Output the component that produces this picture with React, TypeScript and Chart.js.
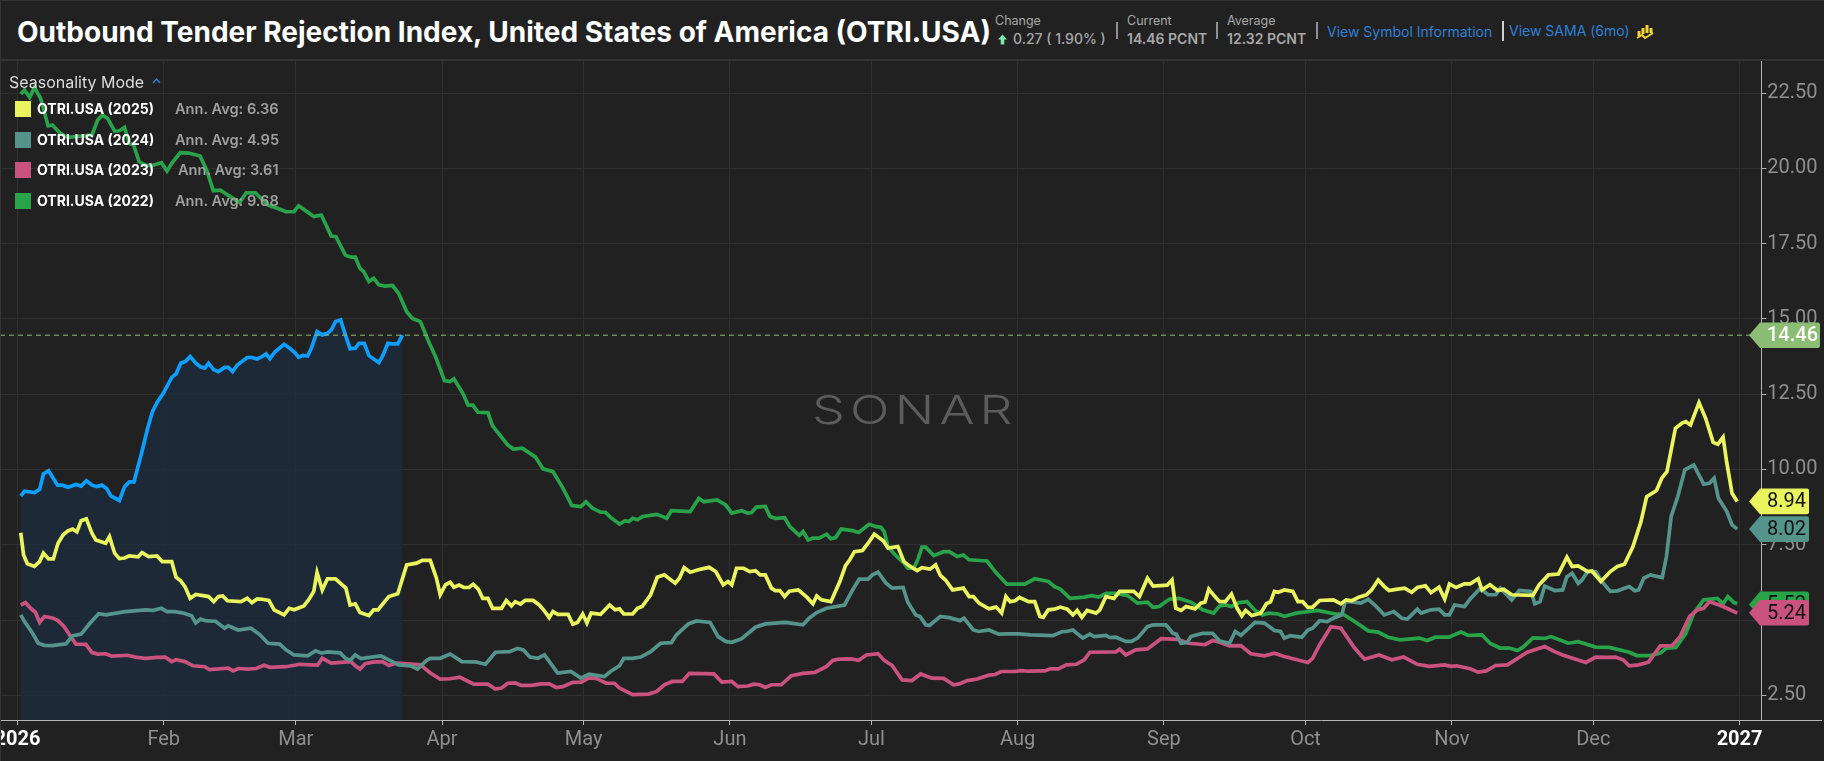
import { useEffect, useRef } from 'react';
import { Chart, registerables } from 'chart.js';

Chart.register(...registerables);

// x is days since Jan 1 2026
const monthTicks = [0, 31, 59, 90, 120, 151, 181, 212, 243, 273, 304, 334, 365];
const monthLabels = ['2026', 'Feb', 'Mar', 'Apr', 'May', 'Jun', 'Jul', 'Aug', 'Sep', 'Oct', 'Nov', 'Dec', '2027'];
const yTicks = [2.5, 5, 7.5, 10, 12.5, 15, 17.5, 20, 22.5];

const currentDays = [0.7,1.5,3.6,4.7,5.5,6.6,8.5,9.5,10.7,12.4,13.5,14.6,15.8,16.8,17.9,18.9,19.8,21.6,22.7,23.7,24.7,26.3,27.5,28.6,29.6,30.9,32.7,33.6,34.6,35.7,36.6,37.8,38.8,39.7,40.5,41.6,42.6,43.9,44.7,45.6,46.6,48.7,49.7,50.8,51.8,52.7,53.5,54.6,56.5,57.7,58.7,59.6,60.5,61.5,62.3,63.5,64.6,65.7,66.5,67.4,68.5,69.5,70.5,71.6,72.4,73.5,74.5,75.5,76.6,77.4,78.5,79.5,80.6,81.6];
const currentValues = [9.12,9.28,9.23,9.34,9.85,9.96,9.48,9.48,9.41,9.5,9.45,9.63,9.48,9.43,9.48,9.37,9.12,8.97,9.43,9.59,9.59,10.54,11.31,11.92,12.23,12.53,13.06,13.17,13.53,13.6,13.75,13.53,13.41,13.37,13.53,13.31,13.25,13.39,13.39,13.25,13.47,13.72,13.72,13.67,13.75,13.84,13.68,13.91,14.16,14.03,13.89,13.73,13.79,13.77,14.03,14.58,14.47,14.52,14.63,14.91,14.97,14.47,14.01,14.03,14.19,14.19,13.78,13.67,13.55,13.77,14.19,14.17,14.17,14.46];

const days2025 = [0.7,1.3,2.1,3.6,4.7,5.5,6.6,7.6,8.6,9.7,10.7,11.7,12.6,13.5,14.6,15.8,16.6,18.7,19.5,20.6,21.6,22.7,23.7,25.6,26.4,27.8,29.6,30.7,32.7,33.6,34.6,35.5,36.6,37.8,40.5,41.6,42.6,43.5,44.5,47.4,48.7,49.7,50.8,51.8,53.3,54.4,56.5,57.6,58.6,60.7,61.7,62.8,63.5,64.6,65.7,67.4,69.6,70.5,71.6,72.6,74.5,75.5,76.4,78.7,80.6,82.5,84.6,85.8,87.5,88.8,89.6,90.7,91.7,92.5,93.6,94.6,95.7,96.6,97.7,98.6,99.7,100.7,102.6,103.6,104.7,105.5,106.6,107.6,109.3,110.6,111.8,112.7,113.5,114.5,116.7,117.7,118.7,119.8,120.7,121.6,123.6,125.5,126.7,127.6,128.5,130.4,131.4,132.4,134.2,135.6,137.1,139.4,140.3,141.3,142.6,144.3,146.6,148,149.6,150.6,151.4,152.4,153.9,155.2,156.4,157.4,158.5,159.8,160.6,161.6,162.6,163.6,165.5,167.3,168.6,169.4,170.4,172.4,174.3,175.5,176.4,177.4,179.1,180.3,181.6,183.5,184.5,186.6,187.9,189.2,190.7,191.7,193.4,194.6,195.6,196.7,198.2,200.5,201.7,202.6,203.8,205.9,207.4,208.6,209.5,210.4,211.4,212.4,214.3,215.6,216.7,217.4,218.5,219.8,221,222.5,223.7,224.6,225.6,226.7,228.6,229.4,230.7,232.4,233.6,236.6,237.8,239.5,240.7,243.7,244.7,245.5,246.6,247.7,249.6,250.8,251.7,252.5,253.8,254.8,256,257.3,258.5,259.5,260.3,261.6,263.5,264.7,265.6,266.4,267.2,268.5,270.3,271.4,272.4,273.5,274.5,276,278.9,280.5,281.6,282.8,284.3,285.9,287,288.4,289.7,290.7,292.2,294,295.5,296.7,298.4,299.6,301.3,302.5,303.5,304.9,306.7,307.9,309.6,310.4,312.1,313.7,315,316.7,321.2,322.5,324.5,326.6,328.4,329.5,330.8,332.8,333.7,335.6,337.6,339.1,340.6,342.4,344.1,345.3,347.4,348.5,349.6,351.4,352.8,353.6,354.6,356.4,357.8,359.4,360.4,361.5,362.3,363.4,364.5];
const values2025 = [7.9,7.16,6.87,6.78,6.94,7.22,7.03,7.03,7.55,7.83,7.96,8.02,7.93,8.3,8.36,7.88,7.66,7.55,7.77,7.22,7.04,7.06,7.13,7.1,7.24,7.11,7.13,6.94,6.94,6.42,6.3,6.11,5.72,5.85,5.78,5.61,5.78,5.8,5.64,5.61,5.72,5.58,5.7,5.69,5.65,5.34,5.17,5.39,5.34,5.47,5.67,5.95,6.58,6,6.37,6.37,6.06,5.5,5.54,5.25,5.15,5.34,5.34,5.78,5.87,6.83,6.89,6.98,6.98,6.39,5.84,6.17,6.26,6.09,6.16,6.08,6.08,6.19,6.02,5.72,5.72,5.39,5.39,5.65,5.47,5.61,5.53,5.65,5.65,5.5,5.28,5.08,5.28,5.19,5.19,4.86,4.92,5.2,4.9,5.23,5.19,5.5,5.34,5.37,5.2,5.2,5.39,5.45,5.84,6.42,6.5,6.22,6.39,6.74,6.59,6.67,6.75,6.61,6.17,6.28,6.17,6.72,6.72,6.61,6.64,6.5,6.5,6.06,5.98,5.98,5.78,5.96,6,5.76,5.54,5.8,5.67,5.61,6.28,6.81,7,7.27,7.31,7.55,7.85,7.63,7.39,7.44,6.94,6.78,6.64,6.74,6.69,6.83,6.48,6.33,6,6.06,5.78,5.78,5.56,5.37,5.43,5.23,5.78,5.61,5.64,5.75,5.61,5.61,5.12,5.09,5.34,5.36,5.43,5.36,5.17,5.32,5.09,5.32,5.23,5.34,5.78,5.72,5.95,5.95,5.78,6.39,6.13,6.16,6.33,5.39,5.32,5.45,5.37,5.56,5.6,6.03,5.78,5.61,5.61,5.86,5.39,5.14,5.32,5.15,5.23,5.54,5.61,5.95,5.92,6,5.95,5.61,5.61,5.42,5.43,5.65,5.67,5.54,5.67,5.64,5.76,5.84,6,6.33,6.11,5.98,6.02,6.06,5.92,6.08,6.14,5.91,6.09,5.7,6.2,6.08,6.2,6.2,6.37,6,6.17,5.98,6.02,5.84,5.82,6.17,6.5,6.53,7.09,6.78,6.8,6.61,6.63,6.28,6.61,6.78,6.85,7.44,8.27,9.1,9.3,9.71,9.93,11.37,11.54,11.59,11.48,12.22,11.7,10.9,10.84,11.07,10.21,9.21,8.94];

const days2024 = [0.7,1.5,3.2,4.4,5.7,7.4,10.3,11.6,13.5,15.4,17.2,18.7,22.9,27.1,28.8,30.5,31.7,33.4,35.1,36.9,37.8,38.8,40.1,42,43.9,44.7,46.8,49.5,51.4,53.1,55.6,56.9,58.6,61.5,63.2,64.4,65.7,68.4,69.5,70.5,71.6,72.8,77,78.7,80.8,83.3,84.8,86.7,87.5,89.6,91.7,94.2,97.1,99.2,101.3,104.3,106,107.2,108.6,110.3,111.7,114.5,117.3,119.4,121.1,124.4,125.7,127.6,128.5,130.4,132.1,134.2,136.3,138.6,139.7,142.2,143.9,146.8,148.5,150.1,151.4,153.5,156.4,158.5,162.7,166.5,167.8,169.4,171.5,175.3,177,178.4,180.3,181.2,182.4,184.1,185.4,187.7,188.7,190.4,191.3,192.5,193.3,195.6,197.5,199.8,200.6,202.6,203.8,205.9,208,210.1,212.2,214.7,218.1,219.4,221.5,222.3,223.7,225.8,227.3,228.2,230.7,231.5,232.8,234.9,236.1,237.4,239.5,240.7,243.4,244.9,245.6,246.6,247.9,248.7,250,251.2,253.3,254.8,256.9,258.1,259.3,262.3,264.3,266.4,267.7,268.5,269.7,272.2,273.5,274.5,276,277.6,278.9,280.7,281.4,282.6,284.7,286.3,288,289.7,291.7,293.4,294.6,296.7,297.5,299.6,301.3,302.5,303.5,304.6,306.7,307.9,310,311.7,313.3,314.3,316.7,318.3,320.8,321.6,322.7,323.7,325.8,327.5,328.4,329.5,330.8,331.6,332.8,334.5,335.8,337.6,339.1,341.6,342.8,343.6,344.7,346.1,348.6,349.5,350.5,351.9,353.4,355.3,357.4,358.6,359.6,360.5,362.3,363.4,364.5];
const values2024 = [5.17,4.95,4.56,4.23,4.16,4.15,4.21,4.47,4.53,4.9,5.21,5.17,5.28,5.34,5.32,5.39,5.28,5.28,5.23,5.14,4.9,5.03,4.97,4.96,4.73,4.81,4.67,4.73,4.51,4.23,4.2,4.01,3.84,3.81,3.98,3.9,3.94,3.91,3.73,3.66,3.84,3.72,3.81,3.68,3.51,3.48,3.37,3.66,3.73,3.73,3.87,3.62,3.61,3.53,3.93,3.95,4.06,4.01,3.77,3.73,3.84,3.24,3.29,3.07,3.2,3.12,3.29,3.48,3.73,3.73,3.77,3.95,4.23,4.25,4.51,4.87,4.97,4.92,4.45,4.29,4.26,4.38,4.76,4.87,4.92,4.84,5.06,5.25,5.39,5.5,6,6.36,6.36,6.5,6.59,6.22,6.06,6.08,5.59,5.17,5.12,4.84,4.82,5.12,5.08,4.98,5.06,4.67,4.62,4.67,4.53,4.54,4.54,4.51,4.49,4.48,4.62,4.62,4.67,4.4,4.53,4.45,4.49,4.42,4.43,4.29,4.29,4.4,4.78,4.84,4.84,4.56,4.53,4.23,4.25,4.45,4.51,4.56,4.56,4.3,4.23,4.62,4.49,4.92,4.9,4.65,4.62,4.4,4.48,4.43,4.67,4.73,4.98,4.95,5.06,5.17,5.61,5.61,5.56,5.69,5.45,5.17,5.28,5.06,5.03,5.36,5.23,5.34,5.36,5.17,5.17,5.5,5.45,5.7,6.05,5.84,5.84,6.06,5.67,5.98,5.95,5.54,5.61,6.13,5.98,6,6.44,6.55,6.22,6.33,6.61,6.61,6.28,5.95,5.97,6.11,5.97,6,6.39,6.5,6.41,7.11,8.44,9.1,9.99,10.15,9.51,9.54,9.71,9.05,8.6,8.16,8.02];

const days2023 = [0.7,1.7,2.8,3.8,4.7,5.7,7.4,8.6,9.9,11.2,12.4,14.5,15.8,17,18.7,20,23.3,25,27.1,29.6,31.3,32.7,33.6,35.5,37.2,39.7,40.7,44.7,45.7,46.8,48.9,50.6,52.3,53.5,56.9,59.8,63.6,64.6,66.5,70.7,71.6,72.6,73.7,75.3,77.4,78.7,80.4,85.4,87.5,89.6,91.7,93.8,96.7,99.7,101.3,102.6,103.9,105.5,106.8,108.9,111,112.7,114.2,115.6,117.7,119.5,121.1,122.7,124.8,126.5,127.6,130.4,133.8,135.5,137.1,138.8,140.9,142.4,147.6,149.3,151.4,152.7,154.8,156,157.3,158.5,159.8,161.9,164,166.5,169,171.5,172.8,174.1,176.6,178.3,179.9,182.4,183.7,185.4,187.5,189.6,191.4,193.8,196.3,198.4,199.6,201.3,203.4,205.9,207.2,208.5,211.4,212.6,214.3,217.7,218.9,220.6,222.3,224.4,226.1,227.3,232.8,233.6,234.9,237,239.5,242.4,245.8,248.3,251.7,253.3,254.8,256.9,259.3,261.4,264.3,266.4,268.5,273.5,274.5,276,278.4,280.5,283.4,285.5,288.6,291.3,293.8,296.7,299.2,302.5,303.8,305,307.9,309.6,311.3,313.3,315.8,320,323.7,325.8,327.5,332.4,334.5,337,338.7,340.3,341.6,343.6,345.7,348.2,350.7,352.4,354.4,356.1,357.4,358.6,360.7,362.3,364.5];
const values2023 = [5.5,5.58,5.39,5.26,4.92,5.12,5.07,4.98,4.78,4.47,4.2,4.19,3.92,3.87,3.88,3.8,3.83,3.77,3.73,3.76,3.77,3.62,3.68,3.62,3.48,3.45,3.35,3.4,3.31,3.39,3.37,3.39,3.5,3.43,3.45,3.53,3.5,3.73,3.57,3.62,3.48,3.37,3.55,3.6,3.62,3.49,3.57,3.51,3.24,3.04,3.05,3.1,2.87,2.87,2.71,2.74,2.9,2.91,2.83,2.83,2.88,2.88,2.76,2.79,2.93,2.94,3.08,3.06,2.9,2.9,2.74,2.52,2.54,2.63,2.85,2.96,2.96,3.23,3.21,2.94,2.96,2.79,2.81,2.87,2.85,2.76,2.85,2.85,3.15,3.23,3.26,3.46,3.66,3.7,3.71,3.66,3.84,3.88,3.66,3.49,3.01,2.99,3.21,3.07,3.06,2.85,2.88,2.99,3.04,3.17,3.19,3.29,3.29,3.32,3.3,3.31,3.38,3.38,3.51,3.53,3.68,3.93,3.94,4.03,3.84,4.01,4.04,4.38,4.36,4.23,4.18,4.32,4.26,4.14,4.15,3.88,3.81,3.9,3.79,3.59,3.73,4.18,4.78,4.73,4.07,3.7,3.84,3.68,3.77,3.53,3.46,3.51,3.46,3.48,3.38,3.27,3.31,3.49,3.51,3.93,4.12,3.95,3.84,3.59,3.77,3.76,3.77,3.68,3.48,3.51,3.6,4.14,4.15,4.45,5.12,5.34,5.39,5.61,5.5,5.39,5.23];

const days2022 = [0.7,1.5,2.6,3.6,4.9,6.5,7.4,9.1,10.7,12,15.8,17,18,19.1,20.6,21.6,22.7,23.7,24.6,25.8,27.1,28.4,30.5,31.7,32.7,34.5,36.3,38.7,40.1,41.5,43,44.5,47.1,48.5,50.4,53.1,55.2,56.9,58.6,59.6,62.8,64.4,66.5,67.5,69.5,70.7,71.6,72.6,73.4,74.5,75.5,76.6,77.9,79.5,80.8,82.5,83.7,85.4,87.3,88.6,90.5,91.7,92.5,94.4,95.5,96.5,97.6,99.7,100.7,103.9,105.1,107,109.8,111.4,113.5,115.6,117.5,119.4,120.5,121.9,123.6,124.6,125.7,127.6,128.8,129.6,130.4,131.4,132.5,135.5,137.6,138.6,142.6,144.4,145.5,148.3,150.1,151.4,153.5,154.8,155.6,156.6,158.5,159.5,160.6,162.6,163.7,165.7,166.5,167.6,168.6,169.9,171.5,172.4,173.4,174.6,177,178.3,180.5,182,183,183.7,184.5,185.8,187.9,188.7,190,190.8,191.7,192.5,194.2,196.3,197.5,199.2,200.5,201.7,205.5,207.2,209.7,213.5,215.6,218.5,219.8,221,223.1,226.1,227.7,229.2,230.7,232.8,235.3,237.4,239.5,240.7,242,244.1,246.2,248.7,251.2,253.5,254.8,256,257.3,258.9,260.6,262.3,263.9,265.2,267.2,268.5,271,275.5,279.3,280.9,283.4,286.3,288.4,290.5,293,297.1,298.8,300.5,303.4,305.9,307.5,310.4,312.1,314.2,316.2,317.9,319.1,321.2,323.7,325,328.7,330.8,334.5,337.4,341.6,343.2,346.1,348.2,349.5,351.5,353.6,355.3,357.4,360.3,361.5,362.5,363.8,364.5];
const values2022 = [22.47,22.6,22.36,22.69,22.33,21.41,21.44,21.16,21.03,21.05,21.11,21.61,21.77,21.66,21.24,21.25,21.36,20.83,20.78,20.22,20.11,20.09,20.19,19.91,20.17,20.52,20.51,20.41,19.95,19.26,19.28,19.12,18.87,19.19,19.19,18.78,18.67,18.56,18.56,18.76,18.4,18.45,17.75,17.73,17.12,17.05,17.05,16.68,16.57,16.24,16.35,16.13,16.09,16.11,15.85,15.24,15.02,14.91,14.19,13.75,12.95,12.92,13.01,12.53,12.14,12.14,11.9,11.89,11.45,10.82,10.68,10.71,10.41,10.02,9.93,9.38,8.8,8.77,8.93,8.71,8.58,8.58,8.41,8.19,8.3,8.27,8.38,8.33,8.44,8.51,8.38,8.63,8.6,9.04,8.93,8.99,8.82,8.55,8.63,8.55,8.57,8.75,8.77,8.44,8.38,8.4,8.1,7.81,7.94,7.66,7.72,7.72,7.85,7.7,7.74,8.02,7.97,7.91,8.18,8.1,8.08,7.94,7.44,7.2,6.89,6.72,6.72,7,7.42,7.42,7.14,7.27,7.27,7.11,7.16,7,6.96,6.61,6.19,6.19,6.37,6.28,6.11,6.03,5.72,5.76,5.81,5.76,5.89,5.89,5.81,5.56,5.59,5.42,5.45,5.69,5.72,5.59,5.34,5.23,5.47,5.5,5.45,5.58,5.61,5.32,5.17,5.23,5.2,5.12,5.23,5.32,5.2,5.2,4.95,4.64,4.6,4.43,4.34,4.4,4.32,4.43,4.43,4.6,4.49,4.51,4.23,4.07,4.07,3.99,4.1,4.41,4.39,4.45,4.23,4.28,4.1,4.09,3.93,3.82,3.82,3.9,4.07,4.09,4.56,5.23,5.67,5.72,5.54,5.78,5.58,5.54];

const legendRows = [
  { name: 'OTRI.USA (2025)', avg: 'Ann. Avg: 6.36', color: '#e9f45f', y: 109, avgX: 175 },
  { name: 'OTRI.USA (2024)', avg: 'Ann. Avg: 4.95', color: '#55948a', y: 140, avgX: 175 },
  { name: 'OTRI.USA (2023)', avg: 'Ann. Avg: 3.61', color: '#c9527f', y: 170, avgX: 178 },
  { name: 'OTRI.USA (2022)', avg: 'Ann. Avg: 9.68', color: '#28a34a', y: 201, avgX: 175 },
];

const lastTags = [
  { value: 14.46, label: '14.46', color: '#8cbd75', text: '#ffffff', width: 71, weight: 500 },
  { value: 8.94, label: '8.94', color: '#e9f45f', text: '#111111', width: 60, weight: 400 },
  { value: 8.02, label: '8.02', color: '#55948a', text: '#111111', width: 60, weight: 400 },
  { value: 5.52, label: '5.52', color: '#28a34a', text: '#111111', width: 60, weight: 400 },
  { value: 5.24, label: '5.24', color: '#c9527f', text: '#111111', width: 60, weight: 400 },
];

const pts = (xs: number[], ys: number[]) => xs.map((x, i) => ({ x, y: ys[i] }));

const lineSet = (label: string, data: { x: number; y: number }[], color: string, order: number) => ({
  label,
  data,
  borderColor: color,
  borderWidth: 3.7,
  pointRadius: 0,
  tension: 0,
  fill: false,
  order,
});

// value tags on the right, the bottom axis runs on past the y axis
const tagsPlugin = {
  id: 'lastTags',
  afterDraw(chart: any) {
    const { ctx, scales, chartArea, width } = chart;
    ctx.save();
    ctx.strokeStyle = '#b5b5b5';
    ctx.lineWidth = 1;
    ctx.beginPath();
    ctx.moveTo(chartArea.right, chartArea.bottom + 0.5);
    ctx.lineTo(width - 2, chartArea.bottom + 0.5);
    ctx.stroke();
    ctx.textBaseline = 'middle';
    ctx.textAlign = 'left';
    lastTags.forEach((t) => {
      const y = scales.y.getPixelForValue(t.value);
      const left = 1749;
      const right = left + t.width;
      ctx.fillStyle = t.color;
      ctx.beginPath();
      ctx.moveTo(left, y);
      ctx.lineTo(left + 11, y - 12.8);
      ctx.lineTo(right - 2, y - 12.8);
      ctx.quadraticCurveTo(right, y - 12.8, right, y - 10.8);
      ctx.lineTo(right, y + 10.8);
      ctx.quadraticCurveTo(right, y + 12.8, right - 2, y + 12.8);
      ctx.lineTo(left + 11, y + 12.8);
      ctx.closePath();
      ctx.fill();
      ctx.fillStyle = t.text;
      ctx.font = `${t.weight} 20px Roboto`;
      ctx.fillText(t.label, left + 18, y + 1);
    });
    ctx.restore();
  },
};

const text = (left: number, top: number, size: number, color: string, weight = 400, family = 'Inter') => ({
  position: 'absolute' as const,
  left,
  top,
  fontSize: size,
  color,
  fontWeight: weight,
  fontFamily: family,
  lineHeight: 1,
  whiteSpace: 'nowrap' as const,
});

const sep = (left: number, top: number, height: number, color: string) => (
  <div style={{ position: 'absolute', left, top, width: 2, height, background: color }} />
);

export default function App() {
  const canvasRef = useRef<HTMLCanvasElement>(null);

  useEffect(() => {
    document.body.style.margin = '0';
    document.body.style.background = '#212121';
    if (!canvasRef.current) return;

    const chart = new Chart(canvasRef.current, {
      type: 'line',
      plugins: [tagsPlugin],
      data: {
        datasets: [
          {
            label: 'Current',
            data: [{ x: -3.7, y: 14.46 }, { x: 369.6, y: 14.46 }],
            borderColor: '#8cbd75',
            borderWidth: 1,
            borderDash: [5, 4],
            pointRadius: 0,
            order: 0,
          },
          {
            ...lineSet('OTRI.USA (2026)', pts(currentDays, currentValues), '#0d9eff', 1),
            fill: 'start',
            backgroundColor: 'rgba(29, 44, 61, 0.8)',
          },
          lineSet('OTRI.USA (2025)', pts(days2025, values2025), '#e9f45f', 2),
          lineSet('OTRI.USA (2024)', pts(days2024, values2024), '#55948a', 3),
          lineSet('OTRI.USA (2023)', pts(days2023, values2023), '#c9527f', 4),
          lineSet('OTRI.USA (2022)', pts(days2022, values2022), '#28a34a', 5),
        ],
      },
      options: {
        animation: false,
        responsive: false,
        devicePixelRatio: 1,
        layout: { padding: 0 },
        plugins: {
          legend: { display: false },
          tooltip: { enabled: false },
          filler: { drawTime: 'beforeDatasetsDraw' },
        },
        scales: {
          x: {
            type: 'linear',
            min: -3.7,
            max: 369.6,
            afterBuildTicks: (scale: any) => {
              scale.ticks = monthTicks.map((value) => ({ value }));
            },
            afterFit: (scale: any) => {
              scale.height = 41;
              scale.paddingLeft = 0;
              scale.paddingRight = 0;
            },
            grid: { color: '#2e2e2e', tickColor: '#b5b5b5', tickLength: 5 },
            border: { color: '#b5b5b5' },
            ticks: {
              autoSkip: false,
              maxRotation: 0,
              padding: 3,
              callback: (value: any) => monthLabels[monthTicks.indexOf(value)],
              color: (c: any) => (c.index === 0 || c.index === monthTicks.length - 1 ? '#ffffff' : '#8f8f8f'),
              font: (c: any) => ({
                family: 'Roboto',
                size: 20,
                weight: c.index === 0 || c.index === monthTicks.length - 1 ? 'bold' : 'normal',
              }),
            },
          },
          y: {
            type: 'linear',
            position: 'right',
            min: 1.68,
            max: 23.6,
            afterBuildTicks: (scale: any) => {
              scale.ticks = yTicks.map((value) => ({ value }));
            },
            afterFit: (scale: any) => {
              scale.width = 62.7;
              scale.paddingTop = 0;
              scale.paddingBottom = 0;
            },
            grid: { color: '#2e2e2e', tickColor: '#b5b5b5', tickLength: 5 },
            border: { color: '#b5b5b5' },
            ticks: {
              padding: 1,
              color: '#8f8f8f',
              font: { family: 'Roboto', size: 20 },
              callback: (value: any) => Number(value).toFixed(2),
            },
          },
        },
      },
    });

    return () => chart.destroy();
  }, []);

  return (
    <div style={{ position: 'relative', width: 1824, height: 761, background: '#212121', overflow: 'hidden' }}>
      <canvas ref={canvasRef} width={1824} height={701} style={{ position: 'absolute', left: 0, top: 60, display: 'block' }} />

      <div style={{ position: 'absolute', left: 0, top: 0, width: 1824, height: 1, background: '#333333' }} />
      <div style={{ position: 'absolute', left: 0, top: 59, width: 1824, height: 2, background: '#333333' }} />
      <div style={{ position: 'absolute', left: 0, top: 0, width: 1, height: 761, background: '#333333' }} />

      <div style={text(17, 18, 28, '#ffffff', 700)}>Outbound Tender Rejection Index, United States of America (OTRI.USA)</div>

      <div style={text(995, 15, 12.5, '#a8a8a8')}>Change</div>
      <svg style={{ position: 'absolute', left: 997, top: 34 }} width={11} height={11} viewBox="0 0 11 11">
        <path d="M5.5 0.5L10 5.5H7.3V10.5H3.7V5.5H1Z" fill="#7de8b0" />
      </svg>
      <div style={text(1013, 32, 14, '#a8a8a8', 500)}>0.27 ( 1.90% )</div>
      {sep(1116, 22, 17, '#8f8f8f')}
      <div style={text(1127, 15, 12.5, '#a8a8a8')}>Current</div>
      <div style={text(1127, 32, 14, '#a8a8a8', 600)}>14.46 PCNT</div>
      {sep(1216, 22, 17, '#8f8f8f')}
      <div style={text(1227, 15, 12.5, '#a8a8a8')}>Average</div>
      <div style={text(1227, 32, 14, '#a8a8a8', 600)}>12.32 PCNT</div>
      {sep(1316, 22, 17, '#8f8f8f')}
      <div style={text(1327, 25, 14, '#2f80d6')}>View Symbol Information</div>
      {sep(1502, 21, 20, '#d0d0d0')}
      <div style={text(1509, 24, 14, '#2f80d6')}>View SAMA (6mo)</div>
      <svg style={{ position: 'absolute', left: 1636, top: 23 }} width={18} height={17} viewBox="0 0 18 17">
        <path d="M3 8v5M7 5v6M11 2v8M15 5v5" stroke="#f0d43a" strokeWidth={3} fill="none" />
        <path d="M1 15l5-3 3 3 8-5" stroke="#f0d43a" strokeWidth={2} fill="none" />
      </svg>

      <div style={text(9, 74, 16, '#dddddd')}>Seasonality Mode</div>
      <svg style={{ position: 'absolute', left: 152, top: 78 }} width={9} height={6} viewBox="0 0 9 6">
        <path d="M1 5l3.5-4 3.5 4" stroke="#2f86d8" strokeWidth={1.3} fill="none" />
      </svg>
      {legendRows.map((r) => (
        <div key={r.name}>
          <div style={{ position: 'absolute', left: 15, top: r.y - 8, width: 16, height: 16, background: r.color }} />
          <div style={text(37, r.y - 7, 14, '#ffffff', 700)}>{r.name}</div>
          <div style={text(r.avgX, r.y - 7, 14.6, '#9f9f9f', 600)}>{r.avg}</div>
        </div>
      ))}

      <div style={{ ...text(812, 390, 40, '#5c5c5c', 300), letterSpacing: 4, transform: 'scaleX(1.3)', transformOrigin: 'left top' }}>SONAR</div>
    </div>
  );
}
